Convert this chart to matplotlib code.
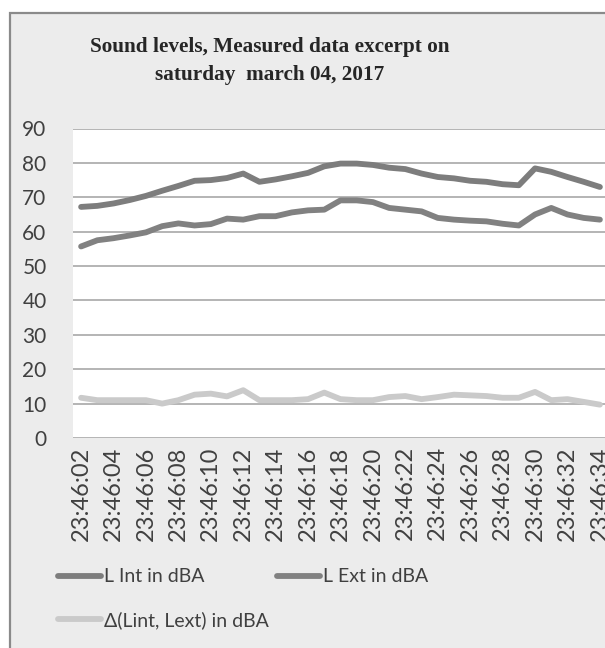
import matplotlib.pyplot as plt
from matplotlib.patches import Rectangle

# Sound levels, one reading per second from 23:46:02
times = ['23:46:%02d' % s for s in range(2, 35)]
l_int = [67.2, 67.5, 68.2, 69.2, 70.4, 71.9, 73.3, 74.8, 75.0, 75.6, 76.9,
         74.5, 75.2, 76.1, 77.1, 79.0, 79.8, 79.8, 79.4, 78.6, 78.2, 76.9,
         75.9, 75.5, 74.8, 74.5, 73.8, 73.5, 78.4, 77.4, 75.9, 74.5, 73.0]
l_ext = [55.7, 57.5, 58.1, 58.9, 59.8, 61.6, 62.4, 61.8, 62.2, 63.8, 63.5,
         64.5, 64.5, 65.6, 66.2, 66.4, 69.1, 69.1, 68.6, 66.9, 66.4, 65.9,
         64.0, 63.5, 63.2, 63.0, 62.3, 61.8, 65.0, 66.9, 65.0, 64.0, 63.5]
delta = [11.7, 11.0, 11.0, 11.0, 11.0, 10.0, 11.0, 12.6, 12.9, 12.1, 13.9,
         11.0, 11.0, 11.0, 11.3, 13.2, 11.3, 11.0, 11.0, 11.9, 12.2, 11.3,
         11.9, 12.6, 12.4, 12.2, 11.7, 11.7, 13.4, 11.0, 11.3, 10.5, 9.7]

W, H = 605, 648
fig = plt.figure(figsize=(W / 100, H / 100), dpi=100)
fig.patch.set_facecolor('white')

# grey chart frame, cut off on the right and at the bottom
fig.patches.append(Rectangle((10 / W, -0.05), 1.1, 1 - 13 / H + 0.05,
                             transform=fig.transFigure, facecolor='#ececec',
                             edgecolor='#8a8a8a', linewidth=1.6, zorder=-5))

ax = fig.add_axes([73 / W, 1 - 438 / H, 535 / W, (438 - 128.5) / H])
ax.set_facecolor('white')

x = list(range(len(times)))
ax.plot(x, l_int, color='#7d7d7d', lw=4.2, solid_capstyle='round', label='L Int in dBA')
ax.plot(x, l_ext, color='#818181', lw=4.2, solid_capstyle='round', label='L Ext in dBA')
ax.plot(x, delta, color='#cacaca', lw=4.2, solid_capstyle='round',
        label='\u0394(Lint, Lext) in dBA')

ax.set_xlim(-0.5, len(times) - 0.5)
ax.set_ylim(0, 90)
ax.set_yticks(range(0, 91, 10))
ax.yaxis.grid(True, color='#a8a8a8', lw=1.2)
ax.set_axisbelow(True)
for s in ax.spines.values():
    s.set_visible(False)

ax.set_xticks(x[::2])
ax.set_xticklabels(times[::2], rotation=90, fontsize=17, color='#404040',
                   family='Lato')
ax.tick_params(axis='x', length=0, pad=6)
ax.tick_params(axis='y', length=0, pad=19, labelsize=15, labelcolor='#404040')
for t in ax.get_yticklabels():
    t.set_family('Lato')

fig.text(270 / W, 1 - 61 / H, 'Sound levels, Measured data excerpt on\nsaturday  march 04, 2017',
         ha='center', va='center', family='Liberation Serif', weight='bold',
         fontsize=15.3, color='#262626', linespacing=1.5)

h, l = ax.get_legend_handles_labels()
order = [0, 2, 1]
fig.legend([h[i] for i in order], [l[i] for i in order], ncol=2,
           loc='upper left', bbox_to_anchor=(41 / W, 1 - 551 / H),
           frameon=False, prop={'family': 'Lato', 'size': 14},
           labelcolor='#404040', handlelength=2.2, handletextpad=0.15,
           columnspacing=0.4, labelspacing=1.3)

fig.savefig('out.png', dpi=100)
